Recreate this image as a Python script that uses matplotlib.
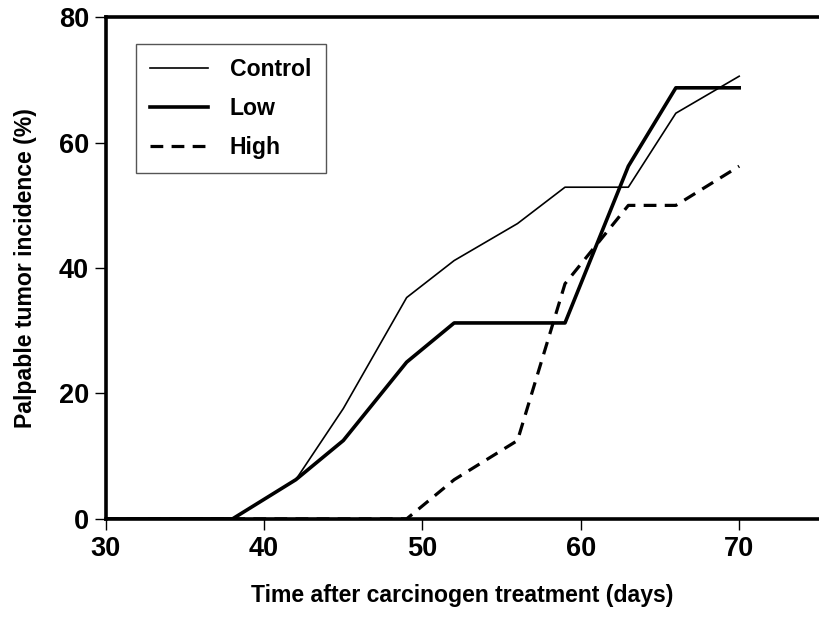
import matplotlib
matplotlib.use("Agg")
import matplotlib.pyplot as plt

plt.rcParams["font.family"] = ["Liberation Sans", "DejaVu Sans"]

# days after carcinogen treatment
days = [30, 38, 42, 45, 49, 52, 56, 59, 63, 66, 70]

# palpable tumor incidence (%)
control = [0, 0, 6.25, 17.6, 35.3, 41.2, 47.1, 52.9, 52.9, 64.7, 70.6]
low = [0, 0, 6.25, 12.5, 25.0, 31.25, 31.25, 31.25, 56.25, 68.75, 68.75]
high = [0, 0, 0, 0, 0, 6.25, 12.5, 37.5, 50.0, 50.0, 56.25]

series_labels = ["Control", "Low", "High"]
x_ticks = [30, 40, 50, 60, 70]
y_ticks = [0, 20, 40, 60, 80]

fig = plt.figure(figsize=(8.2, 6.17), dpi=100)
ax = fig.add_axes([0.129, 0.159, 0.869, 0.813])

ax.plot(days, control, color="black", lw=1.2, label=series_labels[0])
ax.plot(days, low, color="black", lw=2.6, label=series_labels[1])
ax.plot(days, high, color="black", lw=2.3, dashes=(4, 2.6), label=series_labels[2])

ax.set_xlim(30, 75)
ax.set_ylim(0, 80)
ax.set_xticks(x_ticks)
ax.set_yticks(y_ticks)
ax.tick_params(direction="out", length=8, width=1, labelsize=19.5, pad=4)
for lab in ax.get_xticklabels() + ax.get_yticklabels():
    lab.set_fontweight("bold")

for side in ["left", "bottom", "top"]:
    ax.spines[side].set_linewidth(2.6)
ax.spines["right"].set_visible(False)

ax.set_xlabel("Time after carcinogen treatment (days)", fontsize=16.6,
              fontweight="bold", labelpad=16)
ax.set_ylabel("Palpable tumor incidence (%)", fontsize=16.6,
              fontweight="bold", labelpad=16)

leg = ax.legend(loc="upper left", bbox_to_anchor=(136 / 820, 1 - 44 / 617),
                bbox_transform=fig.transFigure, borderaxespad=0,
                fontsize=16.6, handlelength=2.5, handletextpad=0.95,
                labelspacing=0.68, borderpad=0.62, fancybox=False,
                edgecolor="#555555", framealpha=1)
leg.get_frame().set_linewidth(1.0)
for t in leg.get_texts():
    t.set_fontweight("bold")

fig.savefig("out.png", dpi=100)
